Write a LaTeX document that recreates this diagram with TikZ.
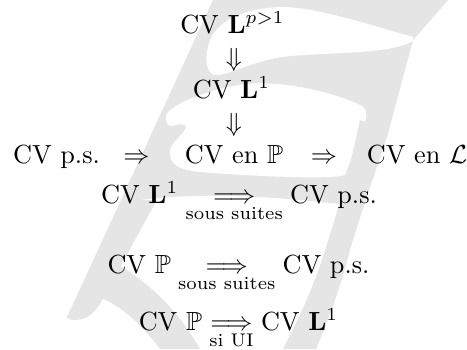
\documentclass[tikz,border=0pt]{standalone}
\usepackage{amsmath,amssymb}
\definecolor{wm}{gray}{0.9}
\begin{document}
\begin{tikzpicture}[x=1bp,y=-1bp,
  lbl/.style={scale=2.63,inner sep=0pt,anchor=base},
  wmark/.style={fill=wm,draw=none},
  gap/.style={fill=white,draw=none}]
\useasboundingbox (0,0) rectangle (467,349);
\fill[white] (0,0) rectangle (467,349);
\begin{scope}
\clip (0,0) rectangle (467,349);
% upper body of the letter
\path[wmark] (213,0) -- (448,0) -- (421,31) .. controls (418,35) and (416,37) .. (413,40)
  -- (389,130) -- (372,178) -- (350,205) .. controls (300,200) and (220,190) .. (140,200) -- (121,200) -- cycle;
% white pocket under the top bar
\path[gap] (413,37) .. controls (380,28) and (320,8) .. (285,7)
  .. controls (250,7) and (222,18) .. (212,36)
  .. controls (205,50) and (204,68) .. (212,74)
  .. controls (222,80) and (250,60) .. (290,56)
  .. controls (340,52) and (390,54) .. (413,41) -- cycle;
% white counter
\path[gap] (168,112) .. controls (175,104) and (205,90) .. (245,84)
  .. controls (290,80) and (340,95) .. (362,106)
  .. controls (368,110) and (367,118) .. (364,125)
  -- (345,175) .. controls (330,180) and (250,176) .. (200,172)
  .. controls (180,170) and (168,165) .. (170,150)
  .. controls (172,140) and (190,130) .. (185,125)
  .. controls (180,122) and (172,128) .. (168,125)
  .. controls (165,120) and (165,116) .. (168,112) -- cycle;
% lower stem and foot
\path[wmark] (121,200) -- (157,200) -- (103,298) .. controls (97,311) and (88,320) .. (75,320)
  .. controls (69,320) and (66,318) .. (67,317) -- cycle;
% bottom bar
\path[wmark] (114,262) .. controls (140,278) and (172,300) .. (200,349) -- (160,349)
  .. controls (135,315) and (110,300) .. (95,296) -- cycle;
% right bowl
\path[wmark] (389,130) .. controls (378,165) and (360,215) .. (350,250)
  .. controls (340,290) and (328,320) .. (316,349) -- (283,349)
  .. controls (298,320) and (312,290) .. (322,260)
  .. controls (333,225) and (345,190) .. (360,120) -- cycle;
\end{scope}
\node[lbl] (lp) at (232.5,33) {CV $\mathbf{L}^{p>1}$};
\node[lbl] (d1) at (234,66) {$\Downarrow$};
\node[lbl] (l1) at (231.5,98) {CV $\mathbf{L}^{1}$};
\node[lbl] (d2) at (234,131) {$\Downarrow$};
\node[lbl] (ps) at (56.5,163) {CV p.s.};
\node[lbl] (i1) at (136.5,163) {$\Rightarrow$};
\node[lbl] (pp) at (234,163) {CV en $\mathbb{P}$};
\node[lbl] (i2) at (324,163) {$\Rightarrow$};
\node[lbl] (pl) at (417,163) {CV en $\mathcal{L}$};
\node[lbl] (r4) at (239,203) {$\text{CV }\mathbf{L}^1 \underset{\text{sous suites}}{\Longrightarrow} \text{CV p.s.}$};
\node[lbl] (r5) at (238.5,273) {$\text{CV }\mathbb{P} \underset{\text{sous suites}}{\Longrightarrow} \text{CV p.s.}$};
\node[lbl] (r6) at (238.5,330) {$\text{CV }\mathbb{P} \underset{\text{si UI}}{\Longrightarrow} \text{CV }\mathbf{L}^1$};
\end{tikzpicture}
\end{document}
